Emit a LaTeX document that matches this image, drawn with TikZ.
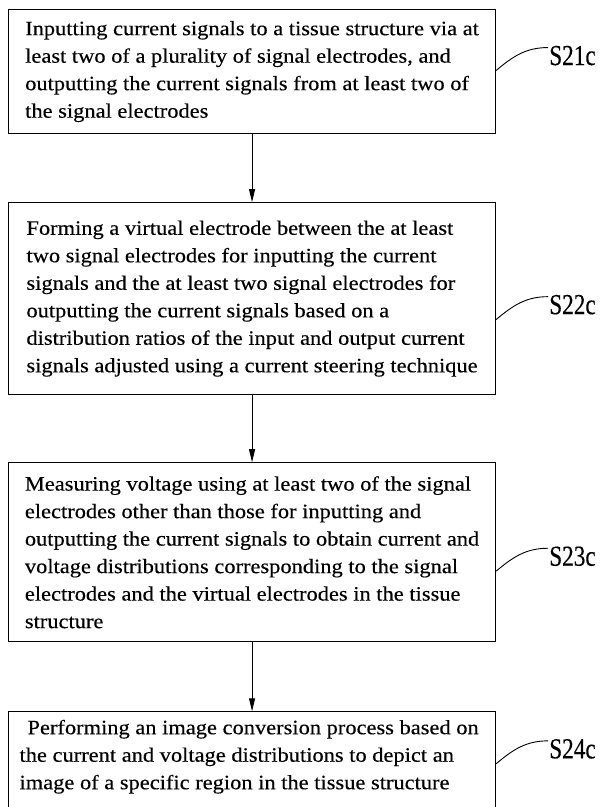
\documentclass[tikz,border=0pt]{standalone}
\usepackage{fontspec}
\setmainfont{Liberation Serif}[FakeStretch=1.1,FakeBold=0.3]
\newfontfamily\labelfont{Liberation Serif}[FakeStretch=0.8,FakeBold=0.3]
\usetikzlibrary{positioning,arrows.meta}
\tikzset{>={Triangle[length=13pt,width=6pt]},
  stepbox/.style={draw,line width=1.1pt,minimum width=487pt,inner xsep=0pt,inner ysep=4pt,font=\fontsize{20.4}{27.5}\selectfont},
  steplabel/.style={font=\labelfont\fontsize{29}{30}\selectfont,inner xsep=1pt,inner ysep=5pt,anchor=west},
  tag/.style={line width=0.9pt}}

\begin{document}
\begin{tikzpicture}[x=1pt,y=1pt]
    \useasboundingbox (0,0) rectangle (605,-807);
    \node[stepbox,align=left,minimum height=124pt,anchor=north west] (s21) at (8,-9)
        {Inputting current signals to a tissue structure via at\\
         least two of a plurality of signal electrodes, and\\
         outputting the current signals from at least two of\\
         the signal electrodes};
    \node[stepbox,align=left,minimum height=192pt] (s22) [below=68pt of s21]
        {Forming a virtual electrode between the at least\\
         two signal electrodes for inputting the current\\
         signals and the at least two signal electrodes for\\
         outputting the current signals based on a\\
         distribution ratios of the input and output current\\
         signals adjusted using a current steering technique};
    \node[stepbox,align=left,minimum height=179pt] (s23) [below=67pt of s22]
        {Measuring voltage using at least two of the signal\\
         electrodes other than those for inputting and\\
         outputting the current signals to obtain current and\\
         voltage distributions corresponding to the signal\\
         electrodes and the virtual electrodes in the tissue\\
         structure};
    \node[stepbox,inner xsep=11pt,inner ysep=8pt] (s24) [below=69pt of s23]
        {\parbox[c][100pt][t]{465pt}{\raggedright
         \hspace*{8pt}Performing an image conversion process based on\\
         the current and voltage distributions to depict an\\
         image of a specific region in the tissue structure}};

    \node[steplabel,right=52pt of s21.east,yshift=16pt] (l21) {S21c};
    \node[steplabel,right=52pt of s22.east,yshift=-6pt] (l22) {S22c};
    \node[steplabel,right=52pt of s23.east,yshift=-4pt] (l23) {S23c};
    \node[steplabel,right=52pt of s24.east,yshift=21pt] (l24) {S24c};

    \draw[->,line width=0.9pt] (s21) -- (s22);
    \draw[->,line width=0.9pt] (s22) -- (s23);
    \draw[->,line width=0.9pt] (s23) -- (s24);

    \draw[tag] (s21.east |- l21.south) to[out=40,in=180] ([yshift=8pt]l21.west);
    \draw[tag] (s22.east |- l22.south) to[out=40,in=180] ([yshift=8pt]l22.west);
    \draw[tag] (s23.east |- l23.south) to[out=40,in=180] ([yshift=8pt]l23.west);
    \draw[tag] (s24.east |- l24.south) to[out=40,in=180] ([yshift=8pt]l24.west);
\end{tikzpicture}
\end{document}
